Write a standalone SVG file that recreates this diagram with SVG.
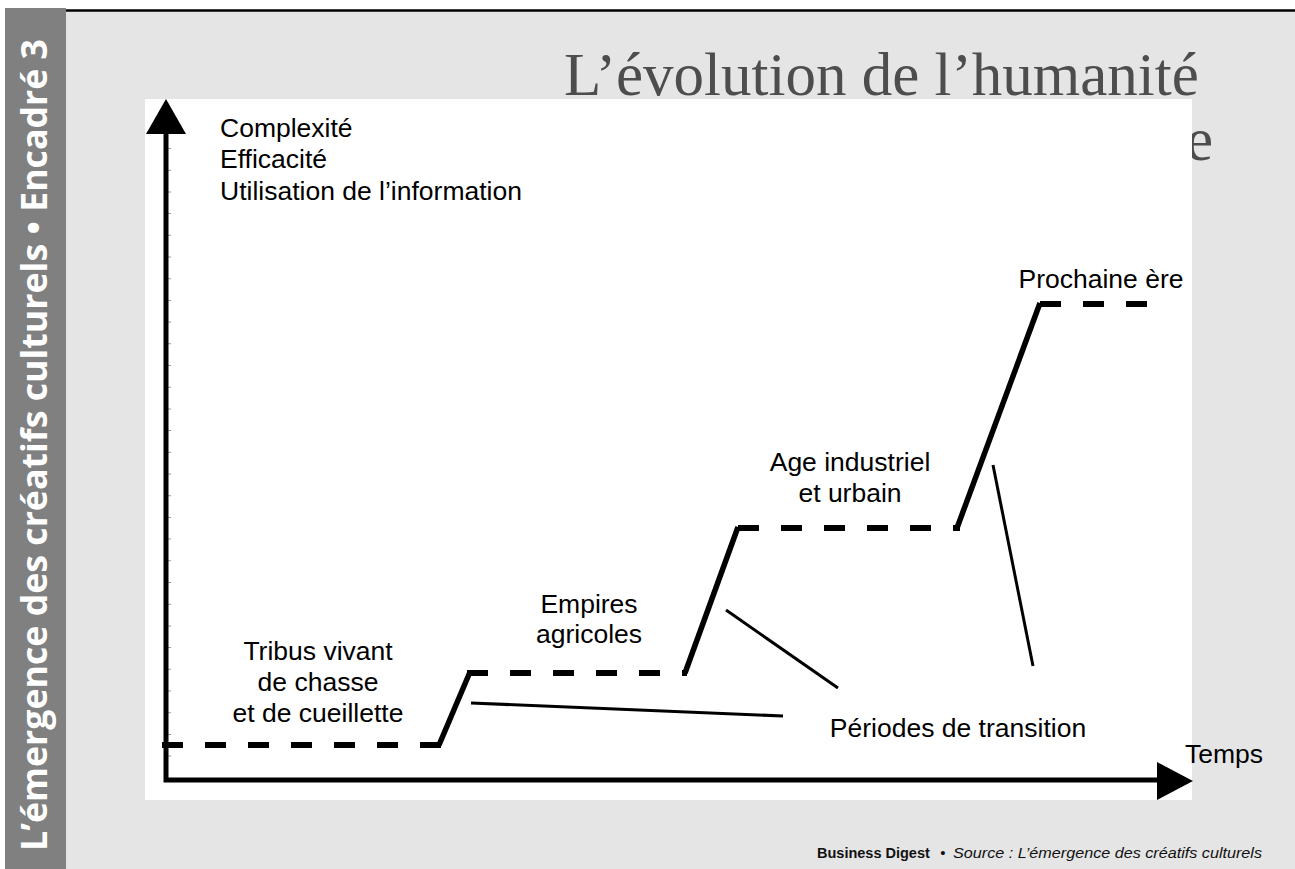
<svg xmlns="http://www.w3.org/2000/svg" width="1295" height="869" viewBox="0 0 1295 869">
  <style>
    .lbl { font-family: "Liberation Sans", Arial, sans-serif; font-size: 26.5px; fill: #000; }
    .mid { text-anchor: middle; }
    .title { font-family: "Liberation Serif", "Times New Roman", serif; font-size: 61px; fill: #4d4d4d; }
    .dash { fill: none; stroke: #000; stroke-width: 6; stroke-dasharray: 21 22; }
    .solid { fill: none; stroke: #000; stroke-width: 5.5; stroke-linecap: butt; }
    .ptr { fill: none; stroke: #000; stroke-width: 3; }
  </style>

  <!-- page background -->
  <rect x="0" y="0" width="1295" height="869" fill="#ffffff"/>
  <rect x="66" y="11" width="1229" height="858" fill="#e5e5e5"/>
  <line x1="66" y1="10.5" x2="1295" y2="10.5" stroke="#000" stroke-width="2.5"/>

  <!-- side bar -->
  <g id="sidebar">
    <rect x="5" y="8" width="61" height="861" fill="#808080"/>
    <text transform="translate(47,851) rotate(-90)" font-family="'Open Sans', 'DejaVu Sans', sans-serif" font-weight="bold" font-size="35" fill="#ffffff" textLength="812" lengthAdjust="spacingAndGlyphs">L’émergence des créatifs culturels • Encadré 3</text>
  </g>

  <!-- title -->
  <g id="title">
    <text class="title" x="564" y="95">L’évolution de l’humanité</text>
    <text class="title" x="1213" y="160" text-anchor="end">e</text>
  </g>

  <!-- white chart panel -->
  <rect id="panel" x="145" y="99" width="1047" height="701" fill="#ffffff"/>

  <!-- axes -->
  <g id="axes">
    <line x1="169.5" y1="148" x2="169.5" y2="776" stroke="#9a9a9a" stroke-width="3" stroke-dasharray="1 20.7"/>
    <path d="M166 130 V780 H1160" fill="none" stroke="#000" stroke-width="5" stroke-linejoin="miter"/>
    <polygon points="166,99 146,134 186,134" fill="#000"/>
    <polygon points="1193,781 1157,762 1157,800" fill="#000"/>
  </g>

  <!-- connectors: evolution curve and pointer lines -->
  <g id="connectors">
    <path class="dash" d="M162 745 H441"/>
    <path class="solid" d="M439 745 L470 672"/>
    <path class="dash" d="M467 673 H687"/>
    <path class="solid" d="M685 673 L738 527"/>
    <path class="dash" d="M738 528 H960"/>
    <path class="solid" d="M957 528 L1040 303"/>
    <path class="dash" d="M1040 304 H1147"/>
    <line class="ptr" x1="471" y1="703" x2="783" y2="716"/>
    <line class="ptr" x1="726" y1="610" x2="838" y2="688"/>
    <line class="ptr" x1="993" y1="465" x2="1033" y2="666"/>
  </g>

  <!-- labels -->
  <g id="y-label">
    <text class="lbl" x="220" y="137">Complexité</text>
    <text class="lbl" x="220" y="168">Efficacité</text>
    <text class="lbl" x="220" y="200">Utilisation de l’information</text>
  </g>
  <g id="tribus">
    <text class="lbl mid" x="318" y="660">Tribus vivant</text>
    <text class="lbl mid" x="318" y="691">de chasse</text>
    <text class="lbl mid" x="318" y="722">et de cueillette</text>
  </g>
  <g id="empires">
    <text class="lbl mid" x="589" y="613">Empires</text>
    <text class="lbl mid" x="589" y="643">agricoles</text>
  </g>
  <g id="industriel">
    <text class="lbl mid" x="850" y="471">Age industriel</text>
    <text class="lbl mid" x="850" y="502">et urbain</text>
  </g>
  <g id="prochaine">
    <text class="lbl mid" x="1101" y="288">Prochaine ère</text>
  </g>
  <g id="transition">
    <text class="lbl mid" x="958" y="737">Périodes de transition</text>
  </g>
  <g id="temps">
    <text class="lbl" x="1185" y="763">Temps</text>
  </g>

  <!-- footer -->
  <g id="footer">
    <text x="817" y="858" font-family="'Liberation Sans', Arial, sans-serif" font-size="14.5" font-weight="bold" fill="#111">Business Digest</text>
    <text x="943" y="858" font-family="'Liberation Sans', Arial, sans-serif" font-size="15" fill="#111" text-anchor="middle">•</text>
    <text x="1262" y="858" font-family="'Liberation Sans', Arial, sans-serif" font-size="15" font-style="italic" fill="#111" text-anchor="end" textLength="309" lengthAdjust="spacingAndGlyphs">Source : L’émergence des créatifs culturels</text>
  </g>
</svg>
